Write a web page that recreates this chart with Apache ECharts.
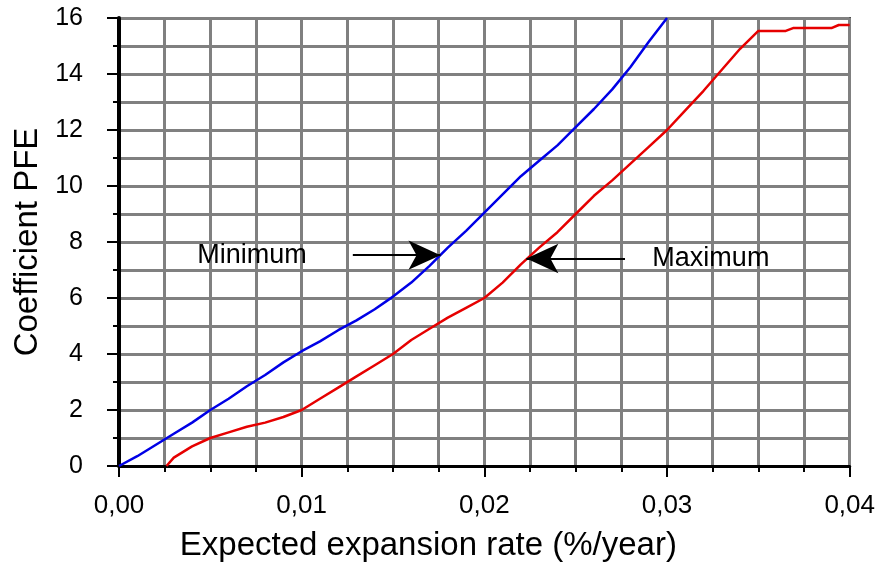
<!DOCTYPE html>
<html>
<head>
<meta charset="utf-8">
<script src="https://cdn.jsdelivr.net/npm/echarts@6/dist/echarts.min.js"></script>
<style>
  html, body { margin: 0; padding: 0; background: #fff; }
  #chart { width: 878px; height: 567px; }
</style>
</head>
<body>
<div id="chart"></div>
<script>
// minimum curve (blue)
const minX = [0, 0.001, 0.002, 0.003, 0.004, 0.005, 0.006, 0.007, 0.008, 0.009, 0.010,
  0.011, 0.012, 0.013, 0.014, 0.015, 0.016, 0.017, 0.018, 0.019, 0.020,
  0.021, 0.022, 0.023, 0.024, 0.025, 0.026, 0.027, 0.028, 0.029, 0.030]
const minY = [0, 0.35, 0.75, 1.15, 1.55, 2.0, 2.4, 2.85, 3.25, 3.7, 4.1,
  4.45, 4.85, 5.2, 5.6, 6.05, 6.55, 7.15, 7.8, 8.4, 9.05,
  9.7, 10.35, 10.9, 11.45, 12.1, 12.75, 13.45, 14.25, 15.15, 16.0]

// maximum curve (red)
const maxX = [0.0026, 0.003, 0.004, 0.005, 0.006, 0.007, 0.008, 0.009, 0.010,
  0.011, 0.012, 0.013, 0.014, 0.015, 0.016, 0.017, 0.018, 0.019, 0.020,
  0.021, 0.022, 0.023, 0.024, 0.025, 0.026, 0.027, 0.028, 0.029, 0.030,
  0.031, 0.032, 0.033, 0.034, 0.035, 0.0365, 0.0369, 0.039, 0.0394, 0.040]
const maxY = [0, 0.3, 0.7, 1.0, 1.2, 1.4, 1.55, 1.75, 2.0,
  2.4, 2.8, 3.2, 3.6, 4.0, 4.5, 4.9, 5.3, 5.65, 6.0,
  6.55, 7.2, 7.8, 8.35, 9.0, 9.65, 10.2, 10.8, 11.4, 12.0,
  12.7, 13.4, 14.15, 14.9, 15.54, 15.54, 15.64, 15.64, 15.75, 15.75]

// annotations: [label, label x, arrow start x, arrow end x, y]
const minNote = ['Minimum', 0.00728, 0.0128, 0.0176, 7.53]
const maxNote = ['Maximum', 0.0324, 0.0277, 0.0223, 7.41]

const xTicks = [0, 0.04, 0.01]
const yTicks = [0, 16, 2]

const font = 'Liberation Sans, Arial, sans-serif'
const pairs = (xs, ys) => xs.map((x, i) => [x, ys[i]])

function note (n) {
  return {
    markLine: {
      silent: true,
      symbol: ['none', 'arrow'],
      symbolSize: [22, 32],
      lineStyle: { color: '#000', width: 2, type: 'solid' },
      label: { show: false },
      data: [[{ coord: [n[2], n[4]] }, { coord: [n[3], n[4]] }]]
    },
    markPoint: {
      silent: true,
      symbolSize: 0,
      label: { show: true, formatter: n[0], color: '#000', fontSize: 27, fontFamily: font },
      data: [{ coord: [n[1], n[4]] }]
    }
  }
}

const chart = echarts.init(document.getElementById('chart'))
chart.setOption({
  animation: false,
  grid: {
    left: 119, right: 23, top: 18, bottom: 98,
    show: true, borderColor: '#000', borderWidth: 2
  },
  xAxis: {
    type: 'value',
    min: xTicks[0], max: xTicks[1], interval: xTicks[2],
    name: 'Expected expansion rate (%/year)',
    nameLocation: 'middle',
    nameGap: 63,
    // the title sits left of the plot centre in the original
    nameTextStyle: { color: '#000', fontSize: 33, fontFamily: font, padding: [0, 112, 0, 0] },
    axisLine: { lineStyle: { color: '#000', width: 3 } },
    axisTick: { length: 11, lineStyle: { color: '#000', width: 2 } },
    minorTick: { show: true, splitNumber: 4, length: 6, lineStyle: { color: '#000', width: 2 } },
    splitLine: { show: true, lineStyle: { color: '#808080', width: 3 } },
    minorSplitLine: { show: true, lineStyle: { color: '#808080', width: 3 } },
    axisLabel: {
      color: '#000', fontSize: 26, fontFamily: font, margin: 27,
      formatter: v => v.toFixed(2).replace('.', ',')
    }
  },
  yAxis: {
    type: 'value',
    min: yTicks[0], max: yTicks[1], interval: yTicks[2],
    name: 'Coefficient PFE',
    nameLocation: 'middle',
    nameGap: 75,
    nameTextStyle: { color: '#000', fontSize: 33, fontFamily: font },
    axisLine: { show: true, lineStyle: { color: '#000', width: 4 } },
    axisTick: { show: true, length: 12, lineStyle: { color: '#000', width: 2 } },
    minorTick: { show: true, splitNumber: 2, length: 6, lineStyle: { color: '#000', width: 2 } },
    splitLine: { show: true, lineStyle: { color: '#808080', width: 3 } },
    minorSplitLine: { show: true, lineStyle: { color: '#808080', width: 3 } },
    axisLabel: { color: '#000', fontSize: 25, fontFamily: font, margin: 36 }
  },
  series: [
    Object.assign({
      name: 'Minimum',
      type: 'line',
      showSymbol: false,
      lineStyle: { color: '#0000e6', width: 2.5 },
      data: pairs(minX, minY),
      z: 3
    }, note(minNote)),
    Object.assign({
      name: 'Maximum',
      type: 'line',
      showSymbol: false,
      lineStyle: { color: '#e60000', width: 2.5 },
      data: pairs(maxX, maxY),
      z: 3
    }, note(maxNote))
  ]
})
</script>
</body>
</html>
